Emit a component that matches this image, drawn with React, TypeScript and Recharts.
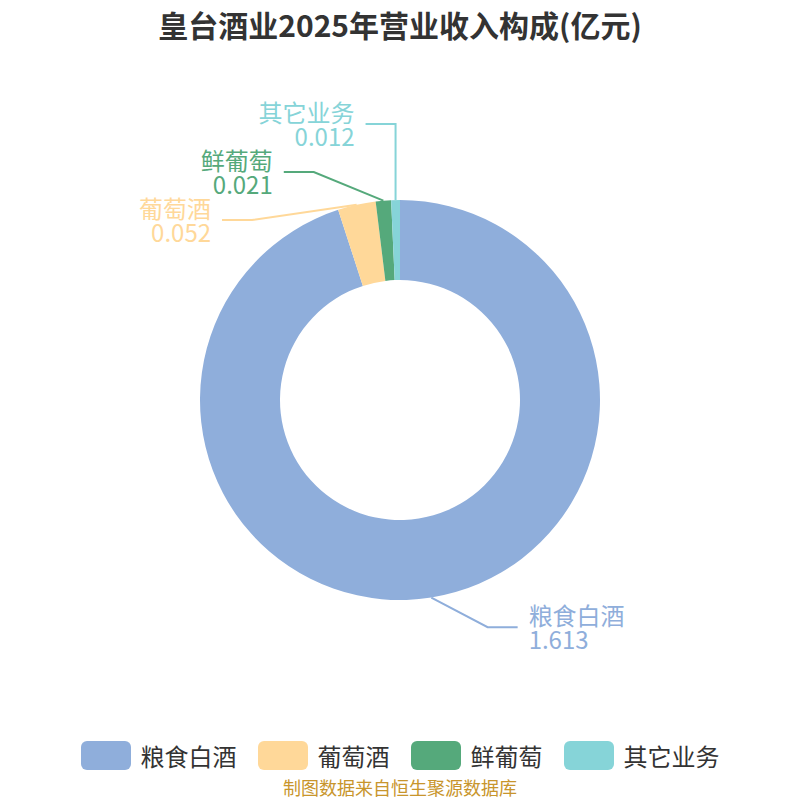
import React from 'react';
import { PieChart, Pie, Cell } from 'recharts';

const categories = ['粮食白酒', '葡萄酒', '鲜葡萄', '其它业务'];
const revenue = [1.613, 0.052, 0.021, 0.012];
const valueLabels = ['1.613', '0.052', '0.021', '0.012'];
const colors = ['#8FAEDB', '#FFD899', '#55A97B', '#86D4D8'];

const titleText = '皇台酒业2025年营业收入构成(亿元)';
const sourceText = '制图数据来自恒生聚源数据库';

const data = categories.map((name, i) => ({ name, value: revenue[i] }));

const FONT = '"Noto Sans CJK SC", "Noto Sans", sans-serif';
const START = 90;
const END = -270;
const GAP = 48;
const ELL_A = 214;
const ELL_B = 249;
const LEN1 = 30;
const LEN2 = 30;

type Item = { i: number; side: number; ex: number; ey: number; y0: number; y: number; x: number };

function layoutLabels(cx: number, cy: number, r: number): Item[] {
  const total = revenue.reduce((a, b) => a + b, 0);
  let cum = 0;
  const items: Item[] = revenue.map((v, i) => {
    const mid = START + ((END - START) * (cum + v / 2)) / total;
    cum += v;
    const rad = (mid * Math.PI) / 180;
    const c = Math.cos(rad);
    const s = Math.sin(rad);
    return { i, side: c >= 0 ? 1 : -1, ex: cx + r * c, ey: cy - r * s, y0: cy - (r + LEN1) * s, y: 0, x: 0 };
  });
  [1, -1].forEach((side) => {
    const list = items.filter((it) => it.side === side).sort((a, b) => a.y0 - b.y0);
    let clusters = list.map((it) => ({ items: [it], mean: it.y0 }));
    let merged = true;
    while (merged) {
      merged = false;
      for (let k = 0; k < clusters.length - 1; k++) {
        const a = clusters[k];
        const b = clusters[k + 1];
        const aEnd = a.mean + ((a.items.length - 1) / 2) * GAP;
        const bStart = b.mean - ((b.items.length - 1) / 2) * GAP;
        if (bStart - aEnd < GAP) {
          const its = a.items.concat(b.items);
          const mean = its.reduce((s, it) => s + it.y0, 0) / its.length;
          clusters.splice(k, 2, { items: its, mean });
          merged = true;
          break;
        }
      }
    }
    clusters.forEach((c) =>
      c.items.forEach((it, j) => {
        it.y = c.mean + (j - (c.items.length - 1) / 2) * GAP;
      })
    );
  });
  items.forEach((it) => {
    const dy = it.y - cy;
    const t = 1 - (dy * dy) / (ELL_B * ELL_B);
    const dx = t > 0 ? ELL_A * Math.sqrt(t) : 0;
    let x = cx + it.side * dx;
    x = it.side < 0 ? Math.min(x, it.ex) : Math.max(x, it.ex);
    it.x = x;
  });
  return items;
}

const renderLabel = (props: any) => {
  const { cx, cy, outerRadius, index } = props;
  const items = layoutLabels(Number(cx), Number(cy), Number(outerRadius));
  const it = items[index];
  const color = colors[index];
  const endX = it.x + it.side * LEN2;
  const tx = endX + it.side * 11;
  const anchor = it.side > 0 ? 'start' : 'end';
  return (
    <g key={`lbl-${index}`}>
      <polyline
        points={`${it.ex},${it.ey} ${it.x},${it.y} ${endX},${it.y}`}
        fill="none"
        stroke={color}
        strokeWidth={2}
      />
      <text textAnchor={anchor} dominantBaseline="central" fill={color} fontSize={24} fontFamily={FONT}>
        <tspan x={tx} y={it.y - 13}>
          {categories[index]}
        </tspan>
        <tspan x={tx} y={it.y + 11}>
          {valueLabels[index]}
        </tspan>
      </text>
    </g>
  );
};

export default function App() {
  return (
    <div style={{ position: 'absolute', left: 0, top: 0, width: 800, height: 800, background: '#fff', fontFamily: FONT }}>
      <div
        style={{
          position: 'absolute',
          top: 4,
          left: 0,
          width: 800,
          textAlign: 'center',
          fontSize: 30,
          fontWeight: 700,
          color: '#333',
          lineHeight: '40px',
        }}
      >
        {titleText}
      </div>
      <div style={{ position: 'absolute', left: 0, top: 0 }}>
        <PieChart width={800} height={800} margin={{ top: 0, right: 0, bottom: 0, left: 0 }}>
          <Pie
            data={data}
            dataKey="value"
            nameKey="name"
            cx={400}
            cy={400}
            innerRadius={120}
            outerRadius={200}
            startAngle={START}
            endAngle={END}
            stroke="none"
            label={renderLabel}
            labelLine={false}
            isAnimationActive={false}
          >
            {data.map((d, i) => (
              <Cell key={d.name} fill={colors[i]} />
            ))}
          </Pie>
        </PieChart>
      </div>
      <div
        style={{
          position: 'absolute',
          top: 741,
          left: 0,
          width: 800,
          display: 'flex',
          justifyContent: 'center',
          gap: 21,
        }}
      >
        {categories.map((c, i) => (
          <div key={c} style={{ display: 'flex', alignItems: 'center' }}>
            <div style={{ width: 50, height: 29, borderRadius: 6, background: colors[i], marginRight: 10 }} />
            <span style={{ fontSize: 24, color: '#333', lineHeight: '29px' }}>{c}</span>
          </div>
        ))}
      </div>
      <div
        style={{
          position: 'absolute',
          top: 774,
          left: 0,
          width: 800,
          textAlign: 'center',
          fontSize: 18,
          color: '#C8952C',
          lineHeight: '26px',
        }}
      >
        {sourceText}
      </div>
    </div>
  );
}
